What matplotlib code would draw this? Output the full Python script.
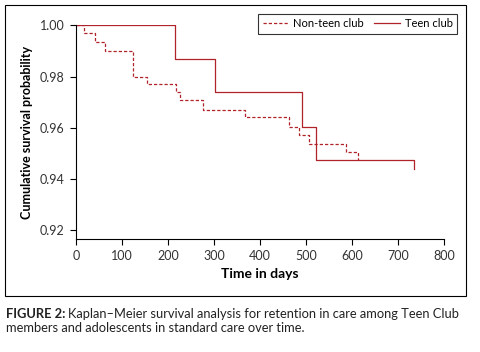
import matplotlib
matplotlib.use("Agg")
import matplotlib.pyplot as plt
from matplotlib.patches import Rectangle

# Kaplan-Meier step data
teen_days = [0, 215, 302, 492, 521, 735]
teen_surv = [1.0, 0.987, 0.974, 0.9604, 0.9472, 0.9438]

nonteen_days = [0, 18, 41, 64, 125, 154, 217, 226, 277, 368, 462, 484, 507, 586, 612]
nonteen_surv = [1.0, 0.9969, 0.9934, 0.9901, 0.980, 0.977, 0.9738, 0.9708,
                0.9669, 0.9640, 0.9604, 0.957, 0.9536, 0.9504, 0.9472]

x_ticks = [0, 100, 200, 300, 400, 500, 600, 700, 800]
y_ticks = [0.92, 0.94, 0.96, 0.98, 1.00]

plt.rcParams['font.family'] = ['Lato', 'DejaVu Sans']
red = '#b0232a'

fig = plt.figure(figsize=(4.8, 3.52), dpi=100)
ax = fig.add_axes([0.1583, 0.3202, 0.7667, 0.6078])

ax.step(nonteen_days, nonteen_surv, where='post', color=red, lw=0.9,
        linestyle=(0, (2.6, 1.6)), label='Non-teen club')
ax.step(teen_days, teen_surv, where='post', color=red, lw=0.9, label='Teen club')

ax.set_xlim(0, 800)
ax.set_ylim(0.9164, 1.0)
ax.set_xticks(x_ticks)
ax.set_yticks(y_ticks)
ax.set_yticklabels([f'{v:.2f}' for v in y_ticks])
ax.tick_params(labelsize=9, length=4, width=0.8, direction='out', pad=4,
               labelcolor='#333333')
for s in ['top', 'right']:
    ax.spines[s].set_visible(False)
for s in ['left', 'bottom']:
    ax.spines[s].set_linewidth(0.8)

ax.set_xlabel('Time in days', fontsize=10, fontweight='bold', labelpad=4)
ax.set_ylabel('Cumulative survival probability', fontsize=9, fontweight='bold', labelpad=5)

leg = fig.legend(loc='upper right', bbox_to_anchor=(0.959, 0.97), ncol=2,
                 fontsize=8, frameon=True, fancybox=False, edgecolor='black',
                 handlelength=2.3, columnspacing=0.9, handletextpad=0.45,
                 borderpad=0.4, borderaxespad=0.3)
leg.get_frame().set_linewidth(0.8)

# outer frame around the chart
fig.patches.append(Rectangle((0.0104, 0.159), 0.9594, 0.827, transform=fig.transFigure,
                             fill=False, edgecolor='black', lw=0.8))

# caption: bold label followed by regular text
renderer = fig.canvas.get_renderer()
t1 = fig.text(0.0125, 0.097, 'FIGURE 2:', fontsize=9.3, fontweight='bold', color='#222222')
bb = t1.get_window_extent(renderer)
fig.text(bb.x1 / fig.bbox.width + 0.006, 0.097,
         'Kaplan\u2013Meier survival analysis for retention in care among Teen Club',
         fontsize=9.3, color='#222222')
fig.text(0.0125, 0.057, 'members and adolescents in standard care over time.',
         fontsize=9.3, color='#222222')

fig.savefig('out.png', dpi=100)
